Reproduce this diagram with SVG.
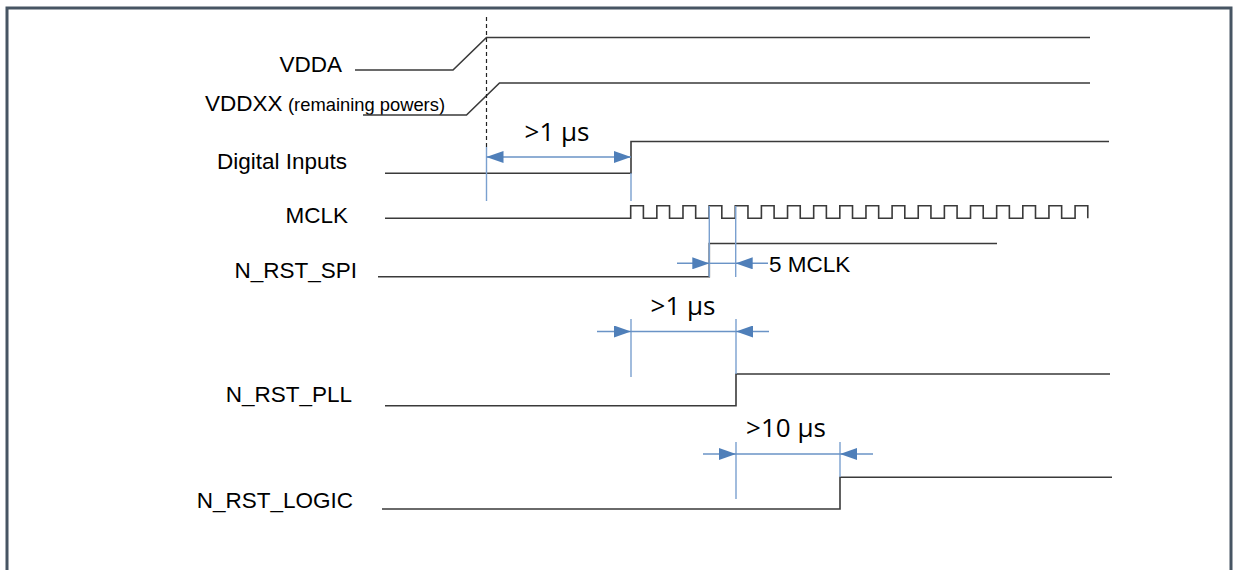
<svg xmlns="http://www.w3.org/2000/svg" width="1238" height="570" viewBox="0 0 1238 570">
<defs>
<style>
.lbl{font-family:"Liberation Sans",Arial,sans-serif;font-size:22.5px;fill:#000}
.sm{font-family:"Liberation Sans",Arial,sans-serif;font-size:19px;fill:#000}
.dl{font-family:"Open Sans","Lato",sans-serif;font-size:26px;fill:#000}
.sig{fill:none;stroke:#3a3a3a;stroke-width:1.6}
.ext{fill:none;stroke:#7aa0cf;stroke-width:1.4}
.dim{fill:none;stroke:#6a93c6;stroke-width:1.4}
</style>
<marker id="ah" viewBox="0 0 10 10" refX="10" refY="5" markerUnits="userSpaceOnUse" markerWidth="17" markerHeight="12" preserveAspectRatio="none" orient="auto-start-reverse">
<path d="M0,0L10,5L0,10z" fill="#4f7fb9"/>
</marker>
</defs>
<rect x="0" y="0" width="1238" height="570" fill="#fff"/>
<rect id="frame" x="7" y="8" width="1224" height="600" fill="none" stroke="#475563" stroke-width="3"/>

<g id="vdda">
<text class="lbl" x="342" y="72" text-anchor="end">VDDA</text>
<path class="sig" d="M355,70H453L486.5,37.5H1090"/>
</g>
<g id="vddxx">
<text class="lbl" x="205" y="111">VDDXX</text>
<text class="sm" x="288" y="111" textLength="157" lengthAdjust="spacingAndGlyphs">(remaining powers)</text>
<path class="sig" d="M363,115H466.5L499.5,83H1090"/>
</g>
<g id="digital-inputs">
<text class="lbl" x="347" y="169" text-anchor="end">Digital Inputs</text>
<path class="sig" d="M385,173.3H631V141.5H1109"/>
</g>
<g id="mclk">
<text class="lbl" x="348" y="223" text-anchor="end">MCLK</text>
<path class="sig" d="M385,218.3H630.7v-12.6h12.7v12.6h13.44v-12.6h12.7v12.6h13.44v-12.6h12.7v12.6h13.44v-12.6h12.7v12.6h13.44v-12.6h12.7v12.6h13.44v-12.6h12.7v12.6h13.44v-12.6h12.7v12.6h13.44v-12.6h12.7v12.6h13.44v-12.6h12.7v12.6h13.44v-12.6h12.7v12.6h13.44v-12.6h12.7v12.6h13.44v-12.6h12.7v12.6h13.44v-12.6h12.7v12.6h13.44v-12.6h12.7v12.6h13.44v-12.6h12.7v12.6h13.44v-12.6h12.7v12.6h13.44v-12.6h12.7v12.6h13.44v-12.6h12.7v12.6"/>
</g>
<g id="n-rst-spi">
<text class="lbl" x="357" y="278" text-anchor="end">N_RST_SPI</text>
<path class="sig" d="M378,276.7H709.3V243.5H997"/>
</g>
<g id="n-rst-pll">
<text class="lbl" x="352" y="402" text-anchor="end">N_RST_PLL</text>
<path class="sig" d="M385,405.8H736V374H1110"/>
</g>
<g id="n-rst-logic">
<text class="lbl" x="353" y="508" text-anchor="end">N_RST_LOGIC</text>
<path class="sig" d="M382,509H840V477.3H1112"/>
</g>

<g id="connectors">
<line x1="486.5" y1="17" x2="486.5" y2="150" stroke="#222" stroke-width="1.2" stroke-dasharray="4,3"/>
<line class="ext" x1="486.5" y1="147" x2="486.5" y2="201"/>
<line class="ext" x1="631" y1="173" x2="631" y2="201"/>
<line class="dim" x1="486.5" y1="157" x2="631" y2="157" marker-start="url(#ah)" marker-end="url(#ah)"/>
<text class="dl" x="557" y="141" text-anchor="middle">&gt;1 µs</text>

<line class="ext" x1="709.3" y1="206" x2="709.3" y2="277"/>
<line class="ext" x1="735.7" y1="206" x2="735.7" y2="277"/>
<line class="dim" x1="677" y1="263.3" x2="709.3" y2="263.3" marker-end="url(#ah)"/>
<line class="dim" x1="709.3" y1="263.3" x2="735.7" y2="263.3"/>
<line class="dim" x1="768" y1="263.3" x2="735.7" y2="263.3" marker-end="url(#ah)"/>
<text class="lbl" x="769" y="272">5 MCLK</text>

<line class="ext" x1="631" y1="319" x2="631" y2="377"/>
<line class="ext" x1="736" y1="319" x2="736" y2="374"/>
<line class="dim" x1="597" y1="331.5" x2="631" y2="331.5" marker-end="url(#ah)"/>
<line class="dim" x1="631" y1="331.5" x2="736" y2="331.5"/>
<line class="dim" x1="769" y1="331.5" x2="736" y2="331.5" marker-end="url(#ah)"/>
<text class="dl" x="683" y="315" text-anchor="middle">&gt;1 µs</text>

<line class="ext" x1="736" y1="442" x2="736" y2="499"/>
<line class="ext" x1="840" y1="442" x2="840" y2="477"/>
<line class="dim" x1="703" y1="454" x2="736" y2="454" marker-end="url(#ah)"/>
<line class="dim" x1="736" y1="454" x2="840" y2="454"/>
<line class="dim" x1="873" y1="454" x2="840" y2="454" marker-end="url(#ah)"/>
<text class="dl" x="786" y="437" text-anchor="middle">&gt;10 µs</text>
</g>
</svg>
